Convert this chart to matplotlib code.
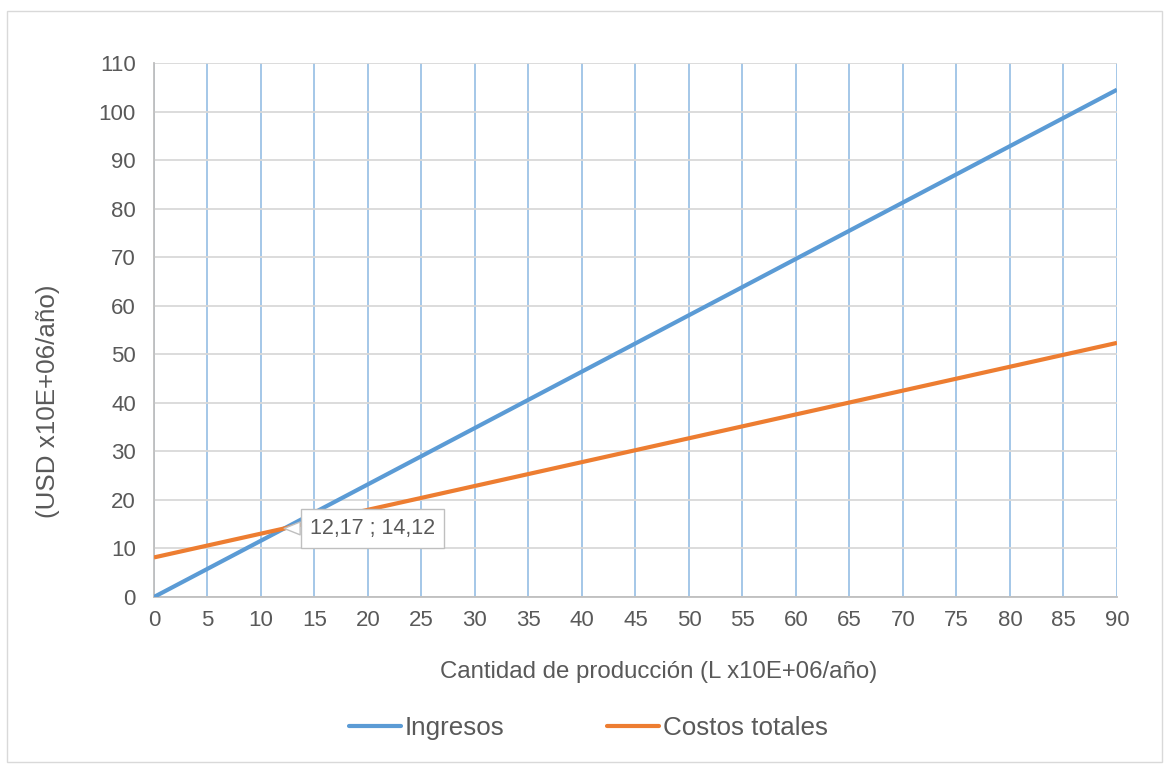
import matplotlib
matplotlib.use('Agg')
import matplotlib.pyplot as plt
from matplotlib.patches import Rectangle

# break-even chart: revenue vs total cost
produccion = [0, 12.17, 90]
ingresos = [0, 14.12, 104.5]
costos = [8.15, 14.12, 52.35]
cruce = (12.17, 14.12)
etiqueta_cruce = '12,17 ; 14,12'

plt.rcParams['font.family'] = ['Liberation Sans', 'DejaVu Sans']
gris_txt = '#595959'

fig = plt.figure(figsize=(11.69, 7.65), dpi=100)
ax = fig.add_axes([0.1317, 0.2196, 0.8238, 0.698])

ax.plot(produccion, ingresos, color='#5B9BD5', lw=3, label='Ingresos',
        solid_capstyle='butt', zorder=3)
ax.plot(produccion, costos, color='#ED7D31', lw=3, label='Costos totales',
        solid_capstyle='butt', zorder=3)

ax.set_xlim(0, 90)
ax.set_ylim(0, 110)
ax.set_xticks(range(0, 91, 5))
ax.set_yticks(range(0, 111, 10))
ax.tick_params(length=0, labelsize=16, labelcolor=gris_txt)
ax.tick_params(axis='y', pad=13)
ax.tick_params(axis='x', pad=9)

ax.grid(axis='x', color='#9DC3E6', lw=1.3)
ax.grid(axis='y', color='#D9D9D9', lw=1.3)
ax.set_axisbelow(True)
for s in ['top', 'right']:
    ax.spines[s].set_visible(False)
for s in ['left', 'bottom']:
    ax.spines[s].set_color('#BFBFBF')
    ax.spines[s].set_linewidth(1.3)

ax.set_xlabel('Cantidad de producción (L x10E+06/año)', fontsize=17.3,
              color=gris_txt)
ax.xaxis.set_label_coords(0.524, -0.12)
ax.set_ylabel('(USD x10E+06/año)', fontsize=18.7, color=gris_txt)
ax.yaxis.set_label_coords(-0.098, 0.367)

ax.annotate(etiqueta_cruce, xy=cruce, xytext=(20.4, 14.2),
            ha='center', va='center', fontsize=15.5, color=gris_txt, zorder=5,
            bbox=dict(boxstyle='square,pad=0.42', fc='white', ec='#BFBFBF'),
            arrowprops=dict(arrowstyle='wedge,tail_width=0.6', fc='white',
                            ec='#BFBFBF', shrinkA=0, shrinkB=0))

leg = fig.legend(loc='center', bbox_to_anchor=(0.5034, 0.048), ncol=2,
                 frameon=False, fontsize=18.7, handlelength=2.0,
                 handletextpad=0.15, columnspacing=3.95)
for t in leg.get_texts():
    t.set_color(gris_txt)
for h in leg.get_lines():
    h.set_solid_capstyle('round')

fig.patches.append(Rectangle((7 / 1169, 3 / 765), 1155 / 1169, 751 / 765,
                             transform=fig.transFigure, fill=False,
                             ec='#D9D9D9', lw=1))

fig.savefig('out.png', dpi=100)
